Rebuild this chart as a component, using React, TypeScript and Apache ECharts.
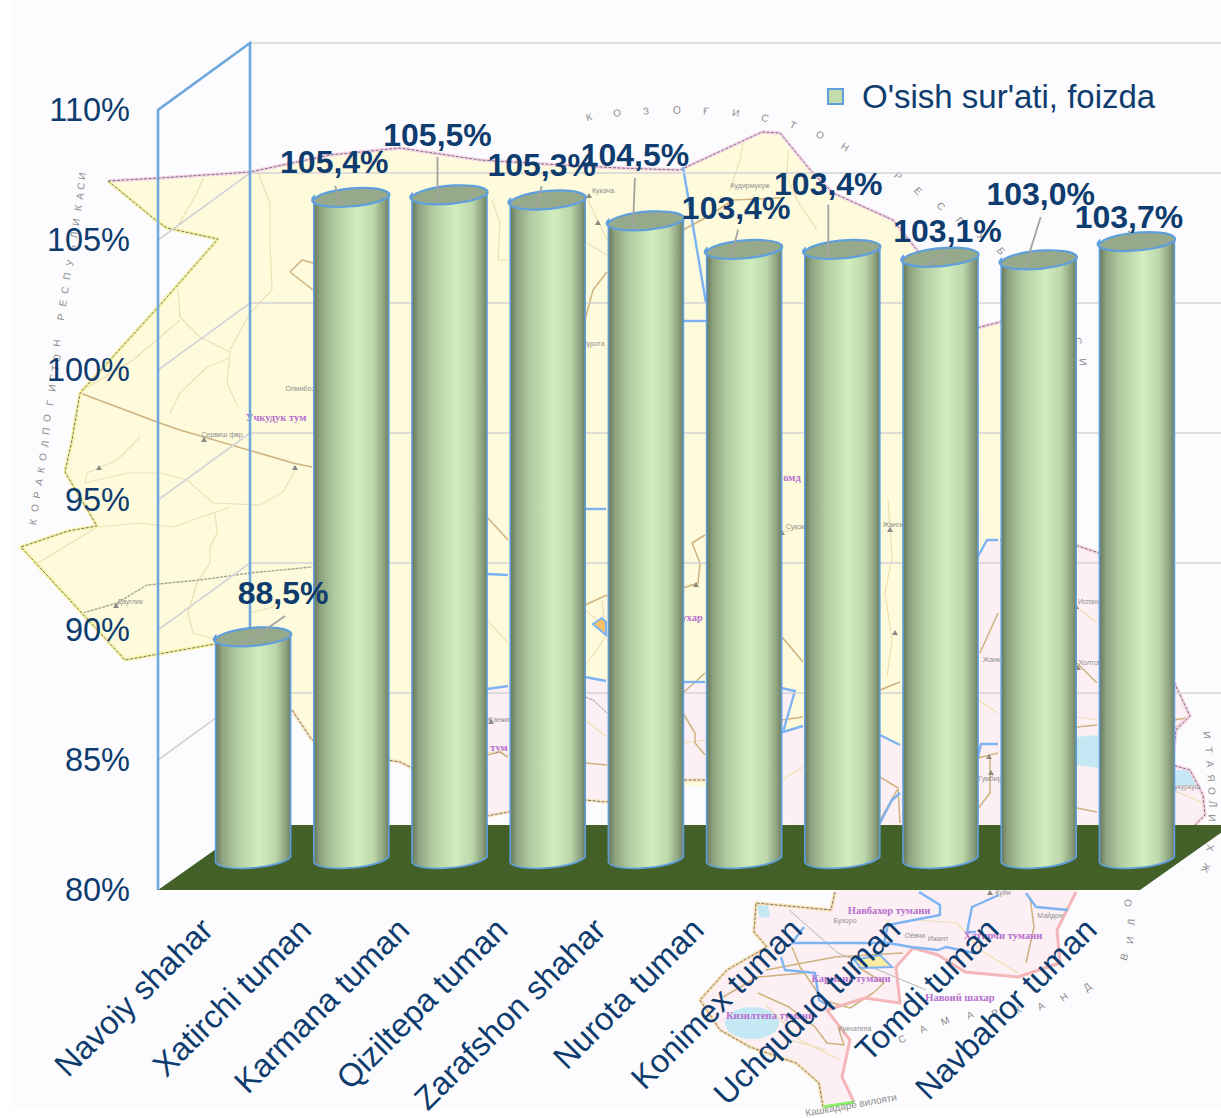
import React, { useEffect, useRef } from "react";
import * as echarts from "echarts";

const categories = [
  "Navoiy shahar", "Xatirchi tuman", "Karmana tuman", "Qiziltepa tuman", "Zarafshon shahar",
  "Nurota tuman", "Konimex tuman", "Uchquduq tuman", "Tomdi tuman", "Navbahor tuman",
];
const growthValues = [88.5, 105.4, 105.5, 105.3, 104.5, 103.4, 103.4, 103.1, 103.0, 103.7];
const valueLabels = ["88,5%", "105,4%", "105,5%", "105,3%", "104,5%", "103,4%", "103,4%", "103,1%", "103,0%", "103,7%"];
const yTicks = [80, 85, 90, 95, 100, 105, 110];
const seriesName = "O'sish sur'ati, foizda";

// label placement relative to each cylinder's top: [labelDx, labelDy, leaderFromDx, leaderFromDy, leaderToDx, leaderToDy]
const labelPlacement = [
  [30, -43, 32, -20, -10, 9],
  [-17, -35, -16, -11, -12, 9],
  [-12, -59, -12, -37, -12, 9],
  [-6, -34, -6, -13, -12, 9],
  [-11, -65, -11, -42, -13, 9],
  [-8, -41, -6, -19, -13, 9],
  [-14, -65, -14, -44, -14, 9],
  [7, -25, 6, -4, -14, 9],
  [2, -65, 2, -42, -14, 9],
  [-8, -24, -8, -10, -8, -8],
];

const NAVY = "#0f3c6e";
const BLUE = "#5f9fdc";
const FONT = '"Liberation Sans", Arial, sans-serif';
const DEPTH_X = 92, DEPTH_Y = 67, MID_X = 46, MID_Y = 33;

type P = [number, number];

const yellowLand: P[] = [[108, 181], [160, 178], [250, 172], [330, 155], [400, 148], [480, 160], [560, 165], [620, 168], [680, 170], [762, 132], [780, 133], [812, 172], [833, 193], [893, 220], [917, 250], [977, 328], [1000, 322], [1040, 320], [1040, 600], [900, 800], [600, 780], [487, 816], [450, 800], [410, 767], [400, 762], [355, 755], [312, 740], [292, 710], [260, 650], [215, 644], [125, 660], [21, 547], [68, 531], [97, 526], [65, 472], [72, 440], [80, 393], [160, 305], [218, 239], [167, 228], [158, 222]];
const pinkLand: P[] = [[440, 692], [487, 689], [508, 686], [585, 677], [606, 681], [683, 682], [705, 682], [781, 688], [795, 691], [783, 732], [803, 726], [880, 735], [900, 745], [960, 650], [977, 558], [987, 540], [1000, 540], [1075, 545], [1120, 560], [1173, 680], [1190, 716], [1176, 730], [1172, 765], [1190, 770], [1203, 795], [1205, 815], [1195, 825], [1100, 860], [1076, 892], [1057, 930], [1060, 963], [1018, 977], [965, 972], [938, 955], [913, 948], [896, 967], [900, 1003], [865, 998], [827, 1010], [850, 1040], [842, 1077], [854, 1102], [823, 1107], [819, 1083], [796, 1063], [750, 1047], [720, 1030], [700, 1000], [727, 970], [767, 947], [754, 932], [756, 903], [831, 910], [835, 892], [800, 830], [782, 822], [705, 780], [683, 780], [606, 802], [585, 800], [508, 812], [487, 816], [450, 800]];
const topBorder: P[] = [[108, 181], [160, 178], [250, 172], [330, 155], [400, 148], [480, 160], [560, 165], [620, 168], [680, 170], [762, 132], [780, 133], [812, 172], [833, 193], [893, 220], [917, 250], [977, 328], [1000, 322], [1040, 320]];
const leftBorder: P[] = [[108, 181], [158, 222], [167, 228], [218, 239], [160, 305], [80, 393], [72, 440], [65, 472], [97, 526], [68, 531], [21, 547], [125, 660], [215, 644]];
const lowerLeftBorder: P[] = [[292, 710], [312, 740], [355, 755], [400, 762], [410, 767], [450, 800], [487, 816], [508, 812], [585, 800], [606, 802], [683, 780], [705, 780]];
const rightBorder: P[] = [[1000, 540], [1075, 545], [1120, 560], [1173, 680], [1190, 716], [1176, 730], [1172, 765], [1190, 770], [1203, 795], [1205, 815], [1195, 825]];
const lowerLobeLeft: P[] = [[835, 892], [831, 910], [756, 903], [754, 932], [767, 947], [727, 970], [700, 1000], [720, 1030], [750, 1047], [796, 1063], [819, 1083], [823, 1107]];
const lowerLobeRight: P[] = [[854, 1102], [842, 1077], [850, 1040], [827, 1010], [865, 998], [900, 1003], [896, 967], [913, 948], [938, 955], [965, 972], [1018, 977], [1060, 963], [1057, 930], [1076, 892]];

const thinRoads: P[][] = [
  [[203, 178], [197, 193], [177, 227]], [[258, 173], [270, 203], [270, 243], [272, 290], [250, 313], [230, 350]],
  [[178, 290], [180, 317], [200, 337], [230, 352], [227, 383], [238, 407]], [[83, 390], [133, 360], [180, 320]],
  [[230, 358], [207, 367], [180, 393], [170, 413]], [[85, 483], [127, 473], [160, 473], [187, 480], [213, 503], [260, 505], [283, 492], [295, 470]],
  [[85, 483], [87, 473], [117, 460], [140, 437]], [[38, 563], [97, 527], [140, 523], [173, 527], [213, 513], [230, 507]],
  [[215, 513], [217, 533], [210, 547], [210, 563], [197, 583], [188, 613], [193, 633], [217, 640]], [[250, 613], [273, 607], [277, 600]],
  [[588, 200], [607, 240]], [[587, 243], [607, 255]], [[730, 190], [740, 160], [743, 142]], [[788, 150], [787, 177], [797, 200], [817, 230]],
  [[492, 200], [500, 223], [498, 260], [508, 260]], [[487, 620], [508, 643]], [[585, 665], [597, 650], [605, 637]], [[602, 600], [604, 617]],
  [[585, 610], [600, 622]], [[782, 532], [803, 528]], [[888, 500], [892, 557], [885, 593], [892, 640], [887, 677]], [[978, 700], [998, 713]],
  [[1077, 607], [1097, 623]], [[1077, 717], [1097, 720]], [[585, 720], [607, 737]], [[487, 753], [508, 750]], [[782, 780], [803, 767]],
  [[1173, 790], [1203, 803]], [[683, 743], [705, 740]], [[766, 1005], [800, 1040], [840, 1060]],
  [[919, 920], [957, 923], [980, 950], [1018, 973]], [[888, 920], [884, 937]], [[790, 1040], [826, 1050]],
];
const darkRoads: P[][] = [
  [[80, 393], [157, 422], [180, 430], [293, 463], [312, 467]], [[290, 272], [302, 260], [313, 263]], [[290, 272], [313, 290]],
  [[585, 320], [593, 290], [607, 272]], [[683, 230], [707, 217], [733, 200], [780, 198]], [[487, 517], [508, 540]],
  [[585, 605], [607, 595]], [[683, 693], [705, 673]], [[692, 543], [700, 563], [698, 583], [683, 588]], [[692, 543], [705, 535]],
  [[683, 713], [695, 733], [695, 743], [705, 755]], [[782, 637], [803, 662]], [[782, 720], [803, 717]], [[585, 763], [607, 765]],
  [[487, 755], [500, 752], [508, 757]], [[880, 690], [900, 682]], [[980, 653], [998, 613]], [[990, 757], [990, 793], [977, 810]],
  [[978, 758], [998, 753]], [[1077, 663], [1097, 683]], [[1077, 727], [1097, 725]], [[1077, 808], [1097, 812]], [[880, 777], [898, 788], [900, 823]],
  [[880, 820], [897, 790]], [[1173, 720], [1187, 718], [1173, 730]], [[766, 970], [835, 957], [903, 953]],
  [[792, 947], [800, 967], [823, 1000], [850, 1008], [873, 993], [884, 983], [858, 967]], [[758, 993], [789, 1007], [815, 1027], [827, 1043], [844, 1045], [838, 1027]],
  [[723, 997], [758, 977], [804, 973]], [[1030, 897], [1034, 927], [1026, 963]],
];
const blueBorders: P[][] = [
  [[683, 167], [706, 303]], [[683, 321], [706, 321]], [[585, 509], [606, 509]], [[487, 574], [508, 575]],
  [[487, 689], [508, 686]], [[585, 677], [606, 681]], [[683, 682], [705, 682]], [[781, 688], [795, 691], [783, 732], [803, 726]],
  [[880, 735], [900, 745]], [[977, 558], [987, 540], [998, 540]], [[978, 757], [981, 744], [998, 744]], [[880, 823], [892, 800], [900, 793]],
  [[1026, 893], [1036, 907], [1068, 910]], [[999, 895], [972, 907], [967, 932], [976, 932]], [[804, 927], [792, 943], [888, 943], [911, 947], [938, 950], [946, 947], [974, 953]],
  [[781, 957], [785, 970], [815, 973], [819, 1000], [831, 1007]], [[919, 892], [940, 905], [940, 915], [888, 925], [884, 943]],
];
const navoiCity: P[] = [[854, 960], [880, 955], [892, 967], [861, 968]];
const zarafshonCity: P[] = [[593, 624], [602, 618], [606, 622], [606, 635]];
const lakes: P[][] = [[[1076, 737], [1098, 735], [1098, 768], [1076, 765]], [[1173, 770], [1190, 770], [1197, 785], [1173, 785]], [[756, 905], [768, 905], [770, 917], [760, 918]]];

// [text, x, y, rotation in degrees clockwise]
const regionLetters: [string, number, number, number][] = [
  ["К", 589, 117, -15], ["О", 617, 113, -10], ["З", 646, 111, -5], ["О", 677, 110, 0], ["Ғ", 706, 111, 5], ["И", 736, 113, 10], ["С", 765, 118, 18], ["Т", 793, 125, 25], ["О", 820, 135, 30], ["Н", 845, 147, 35],
  ["Р", 898, 176, 40], ["Е", 918, 191, 45], ["С", 941, 206, 48], ["П", 960, 221, 50], ["У", 981, 236, 52], ["Б", 1001, 251, 55], ["Л", 1018, 268, 60], ["И", 1036, 285, 65], ["К", 1055, 303, 70], ["А", 1068, 321, 75], ["С", 1078, 341, 80], ["И", 1083, 362, 85],
  ["К", 33, 522, -78], ["О", 35, 508, -78], ["Р", 37, 495, -78], ["А", 39, 482, -78], ["К", 41, 470, -78], ["О", 43, 457, -78], ["Л", 45, 444, -80], ["П", 46, 431, -80], ["О", 47, 418, -80], ["Г", 50, 403, -80], ["И", 52, 388, -82], ["С", 53, 378, -82], ["Т", 55, 368, -84], ["О", 57, 358, -84], ["Н", 57, 343, -84],
  ["Р", 61, 317, -80], ["Е", 63, 303, -80], ["С", 65, 290, -80], ["П", 67, 276, -80], ["У", 70, 263, -80], ["Б", 72, 248, -80], ["Л", 74, 235, -80], ["И", 76, 222, -80], ["К", 78, 208, -80], ["А", 80, 196, -80], ["С", 81, 186, -80], ["И", 82, 176, -80],
  ["С", 902, 1039, -25], ["А", 923, 1029, -25], ["М", 945, 1021, -22], ["А", 970, 1015, -22], ["Р", 995, 1013, -25], ["К", 1018, 1010, -30], ["А", 1041, 1006, -30], ["Н", 1064, 997, -35], ["Д", 1087, 987, -40],
  ["В", 1124, 957, -70], ["И", 1130, 940, -80], ["Л", 1131, 922, -88], ["О", 1128, 903, -95],
  ["И", 1207, 735, 85], ["Т", 1209, 750, 85], ["А", 1210, 764, 85], ["Я", 1211, 778, 85], ["О", 1212, 791, 88], ["Л", 1212, 804, 90], ["И", 1212, 818, 92], ["В", 1211, 833, 95],
  ["Х", 1210, 848, 100], ["Ж", 1206, 868, 115],
];
const districtNames: [string, number, number][] = [
  ["Учкудук тум", 276, 417], ["ухар", 692, 617], ["тум", 499, 747], ["омд", 792, 477],
  ["Навбахор тумани", 889, 910], ["Хатирчи тумани", 1003, 935], ["Кармана тумани", 851, 978], ["Навоий шахар", 960, 997], ["Кизилтепа тумани", 770, 1015],
];
const townNames: [string, number, number][] = [
  ["Сервиш фвр", 222, 434], ["Олмибоз", 300, 388], ["Дауглик", 130, 601], ["Кукача", 603, 190], ["Кудирмукуж", 750, 185], ["Сукок", 795, 526], ["Жанги", 893, 524],
  ["Испан", 1088, 601], ["Жанкат", 995, 659], ["Холтов", 1090, 662], ["Чукуркуш", 1185, 786], ["Куйи", 1003, 892], ["Майдон", 1050, 915], ["Ижант", 938, 938], ["Оёвчи", 915, 935],
  ["Кукчатепа", 855, 1028], ["Бухоро", 845, 920], ["Нурота", 593, 343], ["Жанжир", 500, 719], ["Гумбир", 990, 778],
];
const townMarks: P[] = [[204, 440], [295, 468], [99, 468], [116, 606], [589, 196], [598, 223], [868, 530], [890, 530], [1076, 607], [1078, 668], [989, 757], [991, 773], [895, 633], [782, 533], [491, 722], [696, 585], [990, 893], [1035, 880]];

function line(points: P[], stroke: string, lineWidth: number, extra: any = {}) {
  return { type: "polyline", silent: true, z: -10, shape: { points }, style: { stroke, lineWidth, fill: "none", lineJoin: "round", ...extra } };
}

function mapElements() {
  const out: any[] = [];
  out.push({ type: "rect", silent: true, z: -12, shape: { x: 10, y: 0, width: 1211, height: 1110 }, style: { fill: "#fcfcfe" } });
  out.push({ type: "polygon", silent: true, z: -11, shape: { points: yellowLand }, style: { fill: "#fdfbdc" } });
  out.push({ type: "polygon", silent: true, z: -11, shape: { points: pinkLand }, style: { fill: "#fcf0f4" } });
  lakes.forEach((p) => out.push({ type: "polygon", silent: true, z: -10, shape: { points: p }, style: { fill: "#c5e8f5" } }));
  out.push({ type: "ellipse", silent: true, z: -10, shape: { cx: 752, cy: 1023, rx: 27, ry: 16 }, style: { fill: "#c5e8f5" } });
  thinRoads.forEach((r) => out.push(line(r, "#eedfb4", 1.2)));
  darkRoads.forEach((r) => out.push(line(r, "#cfb27e", 1.5)));
  out.push(line([[83, 613], [117, 603], [147, 585], [200, 580], [250, 573], [312, 567]], "#a9a594", 1.4, { lineDash: [3, 1] }));
  out.push(line([[585, 697], [593, 700], [607, 713]], "#8b8b8b", 1, { lineDash: [3, 1] }));
  out.push(line([[789, 910], [838, 953], [926, 990]], "#b4b4b4", 1));
  out.push(line(topBorder, "#f8d4ea", 3.5));
  out.push(line(leftBorder, "#f7f3a4", 3.5));
  out.push(line(lowerLeftBorder, "#fbe4bd", 3.5));
  out.push(line(rightBorder, "#f9d6e6", 3.5));
  out.push(line(lowerLobeLeft, "#fbe2b4", 3.5));
  out.push(line(lowerLobeRight, "#f4b6b8", 3));
  [topBorder, leftBorder, lowerLeftBorder, rightBorder, lowerLobeLeft].forEach((b) =>
    out.push(line(b, "#77777a", 1, { lineDash: [3, 1.5] })),
  );
  out.push(line([[823, 1107], [854, 1102]], "#8df06a", 3));
  blueBorders.forEach((b) => out.push(line(b, "#7db3f2", 2.4)));
  out.push({ type: "polygon", silent: true, z: -10, shape: { points: navoiCity }, style: { fill: "#fbeea0", stroke: "#7db3f2", lineWidth: 2 } });
  out.push({ type: "polygon", silent: true, z: -10, shape: { points: zarafshonCity }, style: { fill: "#f5c163", stroke: "#7db3f2", lineWidth: 2 } });
  townMarks.forEach(([x, y]) =>
    out.push({ type: "polygon", silent: true, z: -9, shape: { points: [[x, y - 3], [x + 3, y + 2], [x - 3, y + 2]] }, style: { fill: "#8a8a80" } }),
  );
  regionLetters.forEach(([t, x, y, r]) =>
    out.push({ type: "text", silent: true, z: -9, x, y, rotation: (-r * Math.PI) / 180, style: { text: t, fill: "#8c8c8c", font: `10px ${FONT}`, align: "center", verticalAlign: "middle" } }),
  );
  districtNames.forEach(([t, x, y]) =>
    out.push({ type: "text", silent: true, z: -9, x, y, style: { text: t, fill: "#b56fce", font: `bold 10.5px "Liberation Serif", serif`, align: "center", verticalAlign: "middle" } }),
  );
  townNames.forEach(([t, x, y]) =>
    out.push({ type: "text", silent: true, z: -9, x, y, style: { text: t, fill: "#8f8f8f", font: `7px ${FONT}`, align: "center", verticalAlign: "middle" } }),
  );
  out.push({ type: "text", silent: true, z: -9, x: 851, y: 1105, rotation: (10 * Math.PI) / 180, style: { text: "Кашкадарё вилояти", fill: "#8c8c8c", font: `10px ${FONT}`, align: "center", verticalAlign: "middle" } });
  return out;
}

const barGradient = () =>
  new echarts.graphic.LinearGradient(0, 0, 1, 0, [
    { offset: 0, color: "#66765a" },
    { offset: 0.09, color: "#8ea380" },
    { offset: 0.28, color: "#b2cca1" },
    { offset: 0.58, color: "#d1eebf" },
    { offset: 0.8, color: "#bcd7aa" },
    { offset: 0.94, color: "#8b9f7d" },
    { offset: 1, color: "#6d7d61" },
  ]);

const RX = 37.5, RY = 9.5, TILT = 3.5;

const renderWall = (params: any, api: any) => {
  const sys = params.coordSys;
  const v = api.value(1);
  const y = api.coord([0, v])[1];
  const left = sys.x, right = sys.x + sys.width;
  const bottom = sys.y + sys.height, top = sys.y;
  const children: any[] = [];
  if (v === 80) {
    children.push({
      type: "polygon",
      shape: { points: [[left, bottom], [right, bottom], [right + DEPTH_X, bottom - DEPTH_Y + 2], [left + DEPTH_X, bottom - DEPTH_Y + 2]] },
      style: { fill: "#426028" },
      z2: 5,
    });
    children.push({
      type: "polyline",
      shape: { points: [[left, bottom], [left, top], [left + DEPTH_X, top - DEPTH_Y], [left + DEPTH_X, bottom - DEPTH_Y]] },
      style: { stroke: "#6fa8dc", lineWidth: 2.6, fill: "none" },
      z2: 10,
    });
  } else {
    children.push({
      type: "polyline",
      shape: { points: [[left, y], [left + DEPTH_X, y - DEPTH_Y], [1221, y - DEPTH_Y]] },
      style: { stroke: "#d3d4d6", lineWidth: 1.6, fill: "none" },
      z2: 1,
    });
  }
  return { type: "group", children };
};

const renderCylinder = (_params: any, api: any) => {
  const base = api.coord([api.value(0), 80]);
  const top = api.coord([api.value(0), api.value(1)]);
  const cx = base[0] + MID_X;
  const yb = base[1] - MID_Y;
  const yc = top[1] - MID_Y;
  const l = cx - RX, r = cx + RX;
  const arc = `A ${RX + 0.5} ${RY} -5`;
  return {
    type: "group",
    children: [
      {
        type: "path",
        shape: { pathData: `M ${l} ${yc + TILT} L ${l} ${yb + TILT} ${arc} 0 0 ${r} ${yb - TILT} L ${r} ${yc - TILT} Z` },
        style: { fill: barGradient(), stroke: BLUE, lineWidth: 1.6 },
      },
      {
        type: "path",
        shape: { pathData: `M ${l} ${yc + TILT} ${arc} 1 1 ${r} ${yc - TILT} ${arc} 1 1 ${l} ${yc + TILT} Z` },
        style: { fill: "#96a98a", stroke: BLUE, lineWidth: 2.2 },
      },
    ],
  };
};

const renderLabel = (params: any, api: any) => {
  const i = params.dataIndex;
  const top = api.coord([api.value(0), api.value(1)]);
  const cx = top[0] + MID_X, yc = top[1] - MID_Y;
  const [dx, dy, fx, fy, tx, ty] = labelPlacement[i];
  return {
    type: "group",
    children: [
      {
        type: "line",
        shape: { x1: cx + fx, y1: yc + fy, x2: cx + tx, y2: yc + ty },
        style: { stroke: "#a3a3a3", lineWidth: 1.8 },
      },
      {
        type: "text",
        x: cx + dx,
        y: yc + dy,
        style: { text: valueLabels[i], fill: NAVY, font: `bold 32px ${FONT}`, align: "center", verticalAlign: "middle" },
      },
    ],
  };
};

export default function App() {
  const ref = useRef<HTMLDivElement>(null);
  useEffect(() => {
    document.body.style.margin = "0";
    document.body.style.overflow = "hidden";
    const chart = echarts.init(ref.current!, null, { renderer: "svg" });
    chart.setOption({
      animation: false,
      backgroundColor: "#ffffff",
      textStyle: { fontFamily: FONT },
      graphic: { elements: mapElements() },
      grid: { left: 158, top: 110, width: 982, height: 780, containLabel: false, outerBoundsMode: "none" },
      legend: {
        left: 822,
        top: 75,
        data: [{ name: seriesName, icon: "rect", itemStyle: { color: "#c3dcae", borderColor: BLUE, borderWidth: 2 } }],
        itemWidth: 15,
        itemHeight: 15,
        itemGap: 10,
        selectedMode: false,
        textStyle: { color: NAVY, fontSize: 33, fontFamily: FONT, padding: [0, 0, 0, 14] },
      },
      xAxis: {
        type: "category",
        data: categories,
        axisLine: { show: false },
        axisTick: { show: false },
        splitLine: { show: false },
        axisLabel: { interval: 0, rotate: 45, margin: 34, color: NAVY, fontSize: 32.5, fontFamily: FONT },
      },
      yAxis: {
        type: "value",
        min: 80,
        max: 110,
        interval: 5,
        axisLine: { show: false },
        axisTick: { show: false },
        splitLine: { show: false },
        axisLabel: { formatter: "{value}%", margin: 28, color: NAVY, fontSize: 32.5, fontFamily: FONT },
      },
      series: [
        {
          type: "custom",
          name: "walls",
          silent: true,
          z: 1,
          data: yTicks.map((v) => [0, v]),
          encode: { x: 0, y: 1 },
          renderItem: renderWall,
        },
        {
          type: "custom",
          name: seriesName,
          silent: true,
          z: 3,
          itemStyle: { color: "#c3dcae" },
          data: growthValues.map((v, i) => [i, v]),
          encode: { x: 0, y: 1 },
          renderItem: renderCylinder,
        },
        {
          type: "custom",
          name: "labels",
          silent: true,
          z: 4,
          data: growthValues.map((v, i) => [i, v]),
          encode: { x: 0, y: 1 },
          renderItem: renderLabel,
        },
      ],
    });
    return () => chart.dispose();
  }, []);
  return <div ref={ref} style={{ width: 1221, height: 1118 }} />;
}
